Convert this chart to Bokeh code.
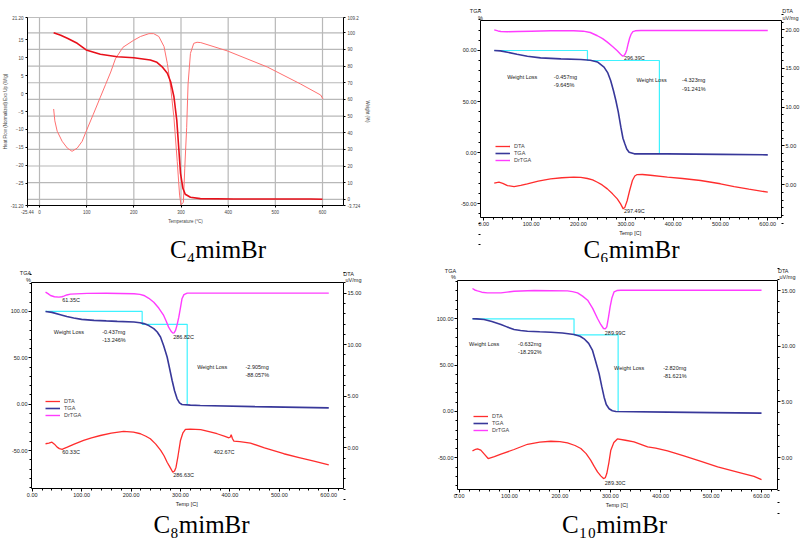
from bokeh.plotting import figure
from bokeh.models import (Range1d, LinearAxis, FixedTicker, Label, Legend, LegendItem,
                          PrintfTickFormatter)
from bokeh.layouts import column, row
from bokeh.embed import file_html
from bokeh.resources import INLINE

SANS = "Liberation Sans"
SERIF = "Liberation Serif"

# ---------------- data: C4mimBr (TA style) ----------------
c4_T_hf = [30, 32.5, 37.5, 48, 59, 69, 80, 90.5, 99, 114, 129, 140, 151, 161, 177, 199, 214, 232, 242, 253,
           264, 271, 278, 285, 292, 297, 300, 305, 308, 312, 315, 320, 327, 334, 342, 398, 483, 553, 596, 601]
c4_hf = [-4.3, -7.6, -10.5, -13.3, -15.2, -16.1, -15.2, -13.3, -10.5, -5.8, -1.0, 2.5, 6.0, 9.7, 12.9, 14.8, 15.9, 16.7, 16.7, 15.9,
         13.1, 8.4, 1.8, -6.7, -18.9, -28.3, -31.0, -30.3, -20.8, -9.5, 2.7, 11.2, 14.0, 14.3, 14.2, 11.9, 7.4, 2.7, -0.4, -1.5]
c4_T_w = [30, 45, 59, 80, 99, 129, 165, 200, 235, 249, 260, 271, 278, 285, 291, 295.5, 299, 304, 309, 320, 341, 412, 575, 600]
c4_w = [100, 98.5, 96.7, 93.7, 89.7, 87.1, 85.6, 85.0, 83.7, 82.3, 79.6, 75.7, 70.6, 61.6, 47.6, 29.6, 15.6, 6.6, 3.0, 1.2, 0.4, 0.2, 0.2, 0.0]
c4_x_ticks = [0, 100, 200, 300, 400, 500, 600]
c4_left_ticks = [-31.2, -25, -20, -15, -10, -5, 0, 5, 10, 15, 21.2]
c4_right_ticks = [-3.724, 0, 10, 20, 30, 40, 50, 60, 70, 80, 90, 100, 109.2]

# ---------------- data: C6mimBr ----------------
c6_T_dr = [22, 30, 36, 50, 71, 100, 141, 190, 210, 225, 240, 251, 261, 272, 282, 289, 293, 296, 299, 302,
           305, 308, 311, 315, 320, 332, 400, 500, 600]
c6_dr = [19.98, 19.85, 19.78, 19.75, 19.78, 19.82, 19.87, 19.87, 19.82, 19.65, 19.23, 18.85, 18.4, 17.85, 17.3, 16.85, 16.6, 16.65, 16.9, 17.4,
         18.2, 18.9, 19.4, 19.75, 19.87, 19.9, 19.9, 19.9, 19.9]
c6_T_tga = [22, 35, 50, 70, 92, 120, 163, 205, 225, 240, 254, 262, 268, 274, 279, 284, 289.6, 294, 298, 302, 307, 318, 388, 500, 600]
c6_tga = [100, 99.6, 98.3, 96.3, 94.4, 92.8, 91.8, 91.2, 90.5, 88.8, 83.7, 78, 70.6, 60.5, 51, 40, 24.8, 14, 8.5, 3.5, 0.3, -1.3, -1.3, -1.8, -2.3]
c6_T_dta = [22, 27, 32, 40, 50, 64, 78, 92, 115, 141, 165, 190, 205, 219, 230, 240, 250, 261, 272, 282,
            289, 294.6, 298, 303, 308, 314, 319, 324, 335, 352, 388, 420, 458, 500, 529, 560, 600]
c6_dta = [0.17, 0.25, 0.30, 0.15, -0.13, -0.26, -0.12, 0.09, 0.45, 0.73, 0.88, 0.95, 0.92, 0.78, 0.60, 0.30, -0.05, -0.56, -1.2, -1.85,
          -2.5, -3.14, -2.95, -2.06, -0.8, 0.52, 1.1, 1.29, 1.30, 1.20, 0.95, 0.78, 0.52, 0.1, -0.26, -0.6, -0.99]
c6_step_T = [22, 219, 371]
c6_step_w = [100, 90.2, -1.3]

# ---------------- data: C8mimBr ----------------
c8_T_dr = [27, 32, 37, 45, 54, 60, 64, 70, 77.5, 111, 150, 206, 218, 226, 236, 246, 256, 266, 271, 276,
           281, 284.5, 287, 290, 293, 296.6, 300, 303, 307, 313.6, 400, 600]
c8_dr = [15.1, 14.95, 14.77, 14.65, 14.61, 14.65, 14.71, 14.82, 14.9, 14.97, 14.99, 14.94, 14.88, 14.77, 14.5, 14.12, 13.55, 12.83, 12.3, 11.7,
         11.3, 11.12, 11.15, 11.38, 11.9, 12.67, 13.6, 14.45, 14.85, 15.0, 15.0, 15.0]
c8_T_tga = [27, 40, 57, 70, 84, 100, 125, 150, 172, 206, 218, 226, 236, 246, 253, 259.6, 266, 273, 278, 283,
            288, 293, 298, 303, 320, 340, 450, 600]
c8_tga = [100.0, 99.0, 96.5, 94.5, 92.9, 91.5, 90.4, 89.8, 89.3, 88.6, 87.9, 86.9, 84.8, 81.5, 77.8, 72.5, 63, 50.9, 38.5, 25.8,
          14.5, 6.1, 1.5, -0.3, -1.0, -1.4, -2.6, -4.0]
c8_T_dta = [27, 33.7, 40, 45, 50.5, 55, 60.7, 65, 71, 85, 104, 120, 138, 160, 185, 205, 219, 230, 239, 250,
            260, 267, 273, 279, 284.5, 288, 291, 295, 300, 305, 310, 320, 341, 360, 374, 390, 398, 400.5, 402.6, 405,
            408, 420, 441.6, 470, 509, 540, 570, 600]
c8_dta = [0.39, 0.45, 0.54, 0.35, 0.06, -0.08, -0.16, -0.05, 0.06, 0.35, 0.71, 0.97, 1.19, 1.42, 1.58, 1.52, 1.36, 1.12, 0.87, 0.35,
          -0.26, -0.8, -1.40, -1.9, -2.37, -2.25, -1.88, -0.8, 0.71, 1.45, 1.78, 1.80, 1.75, 1.55, 1.36, 1.10, 0.97, 1.02, 1.26, 0.9,
          0.64, 0.6, 0.45, 0.0, -0.58, -0.95, -1.3, -1.65]
c8_step_T = [27, 222.5, 313.6]
c8_step_w = [100, 86.1, -0.3]

# ---------------- data: C10mimBr ----------------
c10_T_dr = [26.5, 31, 36.5, 45, 56, 83, 95, 109, 149, 215, 225, 235, 245, 255, 265, 274.6, 281, 286.5, 290, 293,
            296, 299.6, 303, 307.5, 313, 320.8, 450, 600]
c10_dr = [15.18, 15.05, 14.97, 14.85, 14.79, 14.79, 14.86, 14.94, 15.0, 14.97, 14.9, 14.79, 14.5, 14.13, 13.4, 12.49, 11.95, 11.59, 11.55, 11.73,
          12.5, 13.53, 14.3, 14.88, 15.0, 15.03, 15.03, 15.03]
c10_T_tga = [26.5, 35, 49.6, 65, 83, 96, 109, 122, 135.7, 160, 182, 205, 228, 240, 248, 257, 264.7, 271, 277.8, 283,
             287.7, 292, 297.6, 304, 311, 413.5, 500, 600]
c10_tga = [100, 99.9, 99.2, 97.0, 93.9, 91.0, 88.5, 87.4, 86.6, 86.0, 85.5, 84.6, 83.1, 81.2, 78.4, 73.5, 65.8, 54, 40.7, 27,
           15.4, 7.5, 2.9, 0.8, 0, -0.7, -1.2, -1.8]
c10_T_dta = [26.5, 31, 36.5, 43, 50, 57.6, 70, 83, 109, 135.7, 160, 182, 200, 215, 230, 241.5, 252, 261, 268, 274.6,
             281, 286.5, 290, 293, 297, 301, 307, 314, 330, 347, 374, 390, 413.5, 446, 480, 513, 560, 585, 600]
c10_dta = [0.59, 0.70, 0.78, 0.66, 0.3, -0.09, 0.08, 0.30, 0.72, 1.19, 1.38, 1.46, 1.42, 1.31, 1.08, 0.81, 0.35, -0.24, -0.8, -1.29,
           -1.65, -1.89, -1.82, -1.44, -0.5, 0.66, 1.35, 1.67, 1.55, 1.40, 0.95, 0.85, 0.59, 0.14, -0.35, -0.84, -1.4, -1.7, -1.98]
c10_step_T = [26.5, 228, 315.5]
c10_step_w = [100, 82.7, 0]

shim_x_ticks = [0, 100, 200, 300, 400, 500, 600]
shim_left_ticks = [-50, 0, 50, 100]
shim_right_ticks = [0, 5, 10, 15, 20]

C_DTA = "#ff2d2d"
C_TGA = "#38389a"
C_DR = "#ff3cff"
C_CY = "#3ef2ff"


def style_axis(ax, size="5.5px", color="#222222"):
    ax.major_label_text_font = SANS
    ax.major_label_text_font_size = size
    ax.major_label_text_color = color
    ax.axis_label_text_font = SANS
    ax.axis_label_text_font_size = size
    ax.axis_label_text_font_style = "normal"
    ax.axis_label_text_color = color
    ax.axis_line_color = "black"
    ax.major_tick_line_color = "black"
    ax.minor_tick_line_color = "black"
    ax.major_tick_in = 0
    ax.major_tick_out = 3
    ax.minor_tick_in = 0
    ax.minor_tick_out = 2
    ax.major_label_standoff = 1
    ax.axis_label_standoff = 1


def make_fig(W, H, box, xd, ld, rd, rname="r"):
    """Whole canvas is the frame; the plot box is drawn by fixed-location axes."""
    bx0, bx1, by0, by1 = box
    sx = (xd[1] - xd[0]) / (bx1 - bx0)
    xr = (xd[0] - bx0 * sx, xd[1] + (W - bx1) * sx)

    def yr(d):
        s = (d[1] - d[0]) / (by1 - by0)
        return (d[0] - (H - by1) * s, d[1] + by0 * s)

    p = figure(width=W, height=H, x_range=Range1d(*xr), y_range=Range1d(*yr(ld)),
               min_border=0, min_border_left=0, min_border_right=0, min_border_top=0, min_border_bottom=0,
               output_backend="svg", toolbar_location=None, title=None)
    p.extra_y_ranges = {rname: Range1d(*yr(rd))}
    p.outline_line_color = None
    p.background_fill_color = "white"
    p.border_fill_color = "white"
    p.grid.visible = False
    xa = p.xaxis[0]
    xa.fixed_location = ld[0]
    xa.bounds = tuple(xd)
    ya = p.yaxis[0]
    ya.fixed_location = xd[0]
    ya.bounds = tuple(ld)
    ra = LinearAxis(y_range_name=rname, fixed_location=xd[1], bounds=tuple(rd))
    p.add_layout(ra, "right")
    ta = LinearAxis(fixed_location=ld[1], bounds=tuple(xd), ticker=FixedTicker(ticks=[]),
                    major_tick_line_color=None, minor_tick_line_color=None,
                    major_label_text_font_size="0px")
    p.add_layout(ta, "above")
    return p, xa, ya, ra, ta


def screen_text(p, x, y_from_top, txt, size="5.5px", font=SANS, align="center", baseline="middle", color="#222222"):
    p.add_layout(Label(x=x, y=p.height - y_from_top, x_units="screen", y_units="screen", text=txt,
                       text_font=font, text_font_size=size, text_color=color,
                       text_align=align, text_baseline=baseline))


def shimadzu(W, H, box, xd, ld, rd, dta, tga, dr, step, notes, leg_xy, hdr, cap, overrides=None):
    p, xa, ya, ra, ta = make_fig(W, H, box, xd, ld, rd)
    ta.axis_line_color = "black"
    xa.ticker = FixedTicker(ticks=shim_x_ticks, minor_ticks=list(range(0, 640, 20)))
    xa.formatter = PrintfTickFormatter(format="%.2f")
    xa.axis_label = "Temp  [C]"
    ya.ticker = FixedTicker(ticks=shim_left_ticks, minor_ticks=list(range(-90, 150, 10)))
    ya.formatter = PrintfTickFormatter(format="%.2f")
    if overrides:
        ya.major_label_overrides = overrides
    ra.ticker = FixedTicker(ticks=shim_right_ticks, minor_ticks=list(range(-5, 23)))
    ra.formatter = PrintfTickFormatter(format="%.2f")
    for a in (xa, ya, ra):
        style_axis(a)

    sT, sw = step
    p.line([sT[0], sT[1], sT[1], sT[2], sT[2]], [sw[0], sw[0], sw[1], sw[1], sw[2]],
           line_color=C_CY, line_width=1.2)
    r_dr = p.line(dr[0], dr[1], y_range_name="r", line_color=C_DR, line_width=1.4)
    r_tga = p.line(tga[0], tga[1], line_color=C_TGA, line_width=1.6)
    r_dta = p.line(dta[0], dta[1], y_range_name="r", line_color=C_DTA, line_width=1.3)

    for (tx, x, y, rn) in notes:
        p.add_layout(Label(x=x, y=y, text=tx, y_range_name=("r" if rn == "r" else "default"),
                           text_font=SANS, text_font_size="5.5px", text_color="#222222",
                           text_align="left", text_baseline="middle"))
    for (tx, x, y) in hdr:
        screen_text(p, x, y, tx)
    leg = Legend(items=[LegendItem(label="DTA", renderers=[r_dta]),
                        LegendItem(label="TGA", renderers=[r_tga]),
                        LegendItem(label="DrTGA", renderers=[r_dr])],
                 location=leg_xy, orientation="vertical", glyph_width=15, glyph_height=6,
                 label_height=6, label_text_font=SANS, label_text_font_size="5.5px",
                 label_standoff=4, spacing=1, padding=0, margin=0,
                 border_line_color=None, background_fill_alpha=0)
    p.add_layout(leg)
    screen_text(p, cap[0], cap[1], cap[2], size="25px", font=SERIF, baseline="alphabetic", color="black")
    return p


# ---------------- panel A: C4mimBr ----------------
A_x = (-25.44, 644.5)
A_l = (-31.2, 21.2)
A_r = (-3.724, 109.2)
pA, xA, yA, rA, tA = make_fig(400, 262, (27, 343, 17, 205), A_x, A_l, A_r, rname="w")
tA.axis_line_color = "#bdbdbd"
# grid lines from the tick lists, spanning the plot box
pA.segment(x0=c4_x_ticks, y0=[A_l[0]] * len(c4_x_ticks), x1=c4_x_ticks, y1=[A_l[1]] * len(c4_x_ticks),
           line_color="#b8b8b8", line_width=1.2)
gy = c4_right_ticks[1:-1]
pA.segment(x0=[A_x[0]] * len(gy), y0=gy, x1=[A_x[1]] * len(gy), y1=gy, y_range_name="w",
           line_color="#b8b8b8", line_width=1.2)
xA.ticker = FixedTicker(ticks=[A_x[0]] + c4_x_ticks)
xA.major_label_overrides = {A_x[0]: "-25.44"}
xA.axis_label = "Temperature (°C)"
yA.ticker = FixedTicker(ticks=c4_left_ticks)
yA.major_label_overrides = {-31.2: "-31.20", 21.2: "21.20"}
yA.axis_label = "Heat Flow (Normalized) Exo Up (W/g)"
rA.ticker = FixedTicker(ticks=c4_right_ticks)
rA.major_label_overrides = {-3.724: "-3.724", 109.2: "109.2"}
rA.axis_label = "Weight (%)"
for a in (xA, yA, rA):
    style_axis(a, "4.5px", "#444444")
    a.minor_tick_out = 0
    a.major_tick_out = 2
    a.axis_label_standoff = 2
    a.major_label_standoff = 2
yA.axis_label_standoff = 0
pA.line(c4_T_hf, c4_hf, line_color="#ff7070", line_width=1.0)
pA.line(c4_T_w, c4_w, y_range_name="w", line_color="#e8101a", line_width=1.6)
screen_text(pA, 217.5, 249, "C\u2084mimBr", size="25px", font=SERIF, baseline="alphabetic", color="black")

# ---------------- panel B: C6mimBr ----------------
pB = shimadzu(401, 262, (80, 381, 20, 217), (-7, 629), (-63.7, 129.4), (-4.26, 21.2),
              (c6_T_dta, c6_dta), (c6_T_tga, c6_tga), (c6_T_dr, c6_dr), (c6_step_T, c6_step_w),
              [("Weight Loss", 49.4, 73.8, "l"), ("-0.457mg", 148, 73.8, "l"), ("-9.645%", 148, 66.4, "l"),
               ("Weight Loss", 322.6, 70.6, "l"), ("-4.323mg", 419, 70.6, "l"), ("-91.241%", 419, 62.5, "l"),
               ("296.39C", 296, 16.35, "r"), ("297.49C", 296, -3.48, "r")],
              (95, 99),
              [("TGA", 75, 10), ("%", 80, 17), ("DTA", 387, 10), ("uV/mg", 390, 17)],
              (231, 249, "C\u2086mimBr"), overrides={100: "00.00"})

# ---------------- panel C: C8mimBr ----------------
pC = shimadzu(400, 277, (31, 343, 20.3, 226.3), (-1.4, 629.8), (-91.2, 130.9), (-3.98, 16.0),
              (c8_T_dta, c8_dta), (c8_T_tga, c8_tga), (c8_T_dr, c8_dr), (c8_step_T, c8_step_w),
              [("Weight Loss", 43.7, 77.8, "l"), ("-0.437mg", 141.6, 77.8, "l"), ("-13.246%", 141.6, 68.9, "l"),
               ("Weight Loss", 333.8, 40.2, "l"), ("-2.905mg", 431.5, 40.2, "l"), ("-88.057%", 431.5, 31.2, "l"),
               ("61.35C", 60.7, 14.29, "r"), ("286.82C", 285.3, 10.73, "r"), ("60.33C", 60.7, -0.43, "r"),
               ("286.63C", 285.3, -2.69, "r"), ("402.67C", 367.4, -0.43, "r")],
              (45, 121),
              [("TGA", 25, 10.7), ("%", 28, 17), ("DTA", 348, 11), ("uV/mg", 353, 17)],
              (201, 262, "C\u2088mimBr"))

# ---------------- panel D: C10mimBr ----------------
pD = shimadzu(401, 277, (57, 377, 18, 227.3), (-3.2, 631.7), (-84.5, 141.3), (-2.9, 15.9),
              (c10_T_dta, c10_dta), (c10_T_tga, c10_tga), (c10_T_dr, c10_dr), (c10_step_T, c10_step_w),
              [("Weight Loss", 19.8, 73.0, "l"), ("-0.632mg", 117, 73.0, "l"), ("-18.292%", 117, 64.0, "l"),
               ("Weight Loss", 307.5, 47.1, "l"), ("-2.820mg", 404.8, 47.1, "l"), ("-81.621%", 404.8, 37.8, "l"),
               ("289.99C", 289, 11.2, "r"), ("289.30C", 289, -2.25, "r")],
              (73, 106),
              [("TGA", 50, 8), ("%", 53, 14), ("DTA", 382.7, 8), ("uV/mg", 387, 14)],
              (214, 262, "C\u2081\u2080mimBr"))

layout = column(row(pA, pB), row(pC, pD))
open("out.html", "w").write(file_html(layout, INLINE))
